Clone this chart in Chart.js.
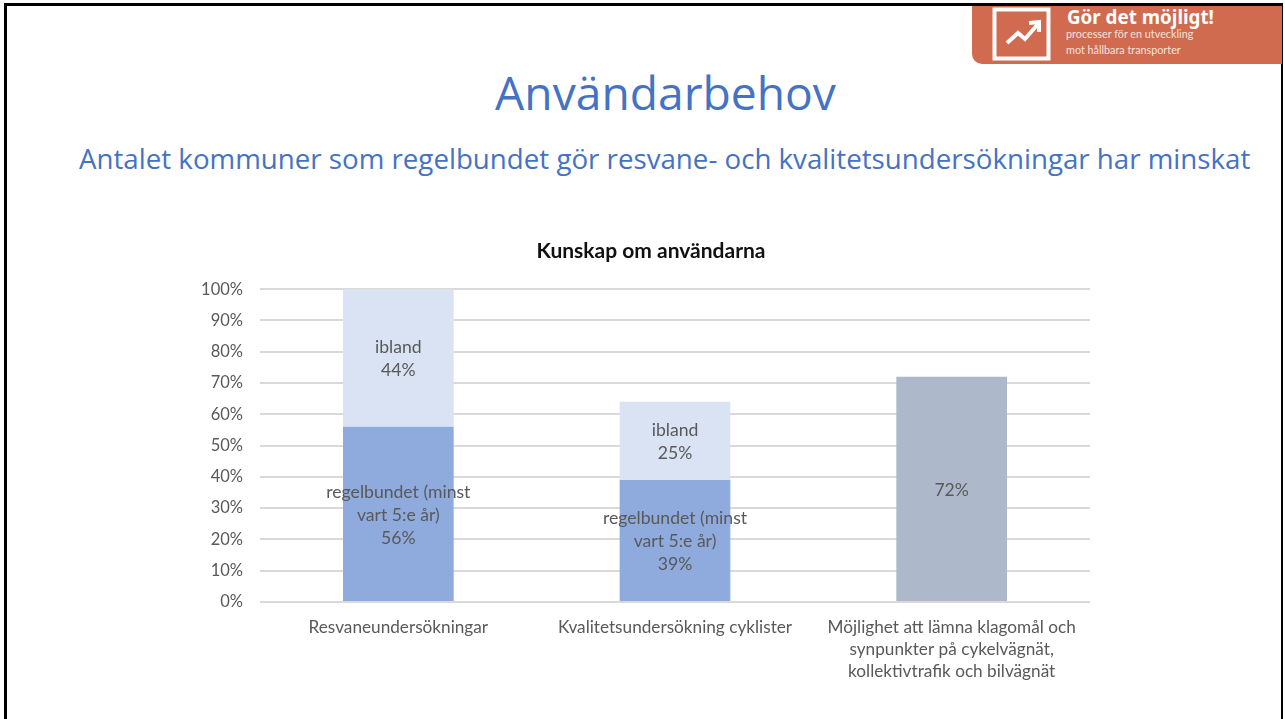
<!DOCTYPE html>
<html lang="sv">
<head>
<meta charset="utf-8">
<title>Användarbehov</title>
<script src="https://cdn.jsdelivr.net/npm/chart.js@4/dist/chart.umd.min.js"></script>
<style>
  html, body { margin: 0; padding: 0; background: #fff; }
  body { position: relative; width: 1285px; height: 719px; overflow: hidden; font-family: "Open Sans", sans-serif; }
  #frame { position: absolute; left: 4px; top: 3px; width: 1279px; height: 730px; border: 3px solid #000; box-sizing: border-box; border-width: 3px 2px 3px 3px; }
  #badge { position: absolute; left: 972px; top: 6px; width: 310px; height: 58px; background: #d06b50; border-bottom-left-radius: 10px; color: #fff; }
  #badge svg { position: absolute; left: 20px; top: 1px; }
  #badge .head { position: absolute; left: 95px; top: -2px; font: bold 18.8px "Noto Sans", sans-serif; white-space: nowrap; }
  #badge .sub { position: absolute; left: 94px; top: 20px; font: 10.8px/16px "Lato", sans-serif; white-space: nowrap; color: #f7e3dc; }
  h1 { position: absolute; left: 0; width: 1331px; top: 61px; margin: 0; text-align: center; font: 400 46.2px "Open Sans", sans-serif; color: #4472c4; }
  h2 { position: absolute; left: 79px; top: 139px; margin: 0; font: 400 27.7px "Open Sans", sans-serif; color: #4472c4; white-space: nowrap; }
  #wrap { position: absolute; left: 180px; top: 230px; width: 930px; height: 470px; }
</style>
</head>
<body>
<div id="frame"></div>
<div id="badge">
  <svg width="60" height="54" viewBox="0 0 60 54">
    <rect x="2.5" y="2.5" width="54" height="49" fill="none" stroke="#fff" stroke-width="4"/>
    <path d="M15 36 L26 26 L33 32 L46 17 M37 16 L47 15 L47 25" fill="none" stroke="#fff" stroke-width="4"/>
  </svg>
  <div class="head">Gör det möjligt!</div>
  <div class="sub">processer för en utveckling<br>mot hållbara transporter</div>
</div>
<h1>Användarbehov</h1>
<h2>Antalet kommuner som regelbundet gör resvane- och kvalitetsundersökningar har minskat</h2>
<div id="wrap"><canvas id="chart"></canvas></div>
<script>
// Data
const categories = [
  "Resvaneundersökningar",
  "Kvalitetsundersökning cyklister",
  ["Möjlighet att lämna klagomål och", "synpunkter på cykelvägnät,", "kollektivtrafik och bilvägnät"],
];
const regelbundet = [56, 39, null];
const ibland = [44, 25, null];
const mojlighet = [null, null, 72];
const yTicks = [0, 10, 20, 30, 40, 50, 60, 70, 80, 90, 100];
const chartTitle = "Kunskap om användarna";

// Skriver etiketterna mitt i varje stapel, även bredare än stapeln
const barLabels = {
  id: "barLabels",
  afterDatasetsDraw(chart) {
    const ctx = chart.ctx;
    ctx.save();
    ctx.font = '17.6px "Lato", sans-serif';
    ctx.fillStyle = "#595959";
    ctx.textAlign = "center";
    ctx.textBaseline = "middle";
    chart.data.datasets.forEach((ds, i) => {
      chart.getDatasetMeta(i).data.forEach((bar, j) => {
        if (ds.data[j] === null) return;
        const lines = [...ds.labelLines, ds.data[j] + "%"];
        const mid = (bar.y + bar.base) / 2 + 1;
        lines.forEach((line, k) => {
          ctx.fillText(line, bar.x, mid + (k - (lines.length - 1) / 2) * 23);
        });
      });
    });
    ctx.restore();
  },
};

// Flyttar rubriken till samma mittpunkt som i bilden
const titleShift = {
  id: "titleShift",
  afterLayout(chart) {
    chart.titleBlock.left += 16;
    chart.titleBlock.right += 16;
  },
};

new Chart(document.getElementById("chart"), {
  type: "bar",
  data: {
    labels: categories,
    datasets: [
      { label: "regelbundet", data: regelbundet, backgroundColor: "#8faadc", labelLines: ["regelbundet (minst", "vart 5:e år)"] },
      { label: "ibland", data: ibland, backgroundColor: "#dae3f3", labelLines: ["ibland"] },
      { label: "möjlighet", data: mojlighet, backgroundColor: "#adb9ca", labelLines: [] },
    ],
  },
  options: {
    responsive: true,
    maintainAspectRatio: false,
    animation: false,
    layout: { padding: { right: 20 } },
    plugins: {
      legend: { display: false },
      tooltip: { enabled: false },
      title: {
        display: true,
        text: chartTitle,
        color: "#111",
        font: { family: "Lato", size: 21, weight: "bold" },
        padding: { top: 9, bottom: 25 },
      },
    },
    scales: {
      x: {
        stacked: true,
        border: { display: false },
        grid: { display: false },
        ticks: { color: "#595959", font: { family: "Lato", size: 17.2, lineHeight: 1.3 }, maxRotation: 0, autoSkip: false, padding: 6 },
        afterFit(axis) { axis.height = 98; },
      },
      y: {
        stacked: true,
        min: 0,
        max: 100,
        border: { display: false },
        grid: { color: "#d9d9d9", lineWidth: 2, drawTicks: false },
        afterBuildTicks(axis) { axis.ticks = yTicks.map((value) => ({ value })); },
        ticks: { color: "#595959", font: { family: "Lato", size: 16.5 }, padding: 17, callback: (v) => v + "%" },
        afterFit(axis) { axis.width = 80; },
      },
    },
    datasets: { bar: { categoryPercentage: 0.4, barPercentage: 1 } },
  },
  plugins: [barLabels, titleShift],
});
</script>
</body>
</html>
